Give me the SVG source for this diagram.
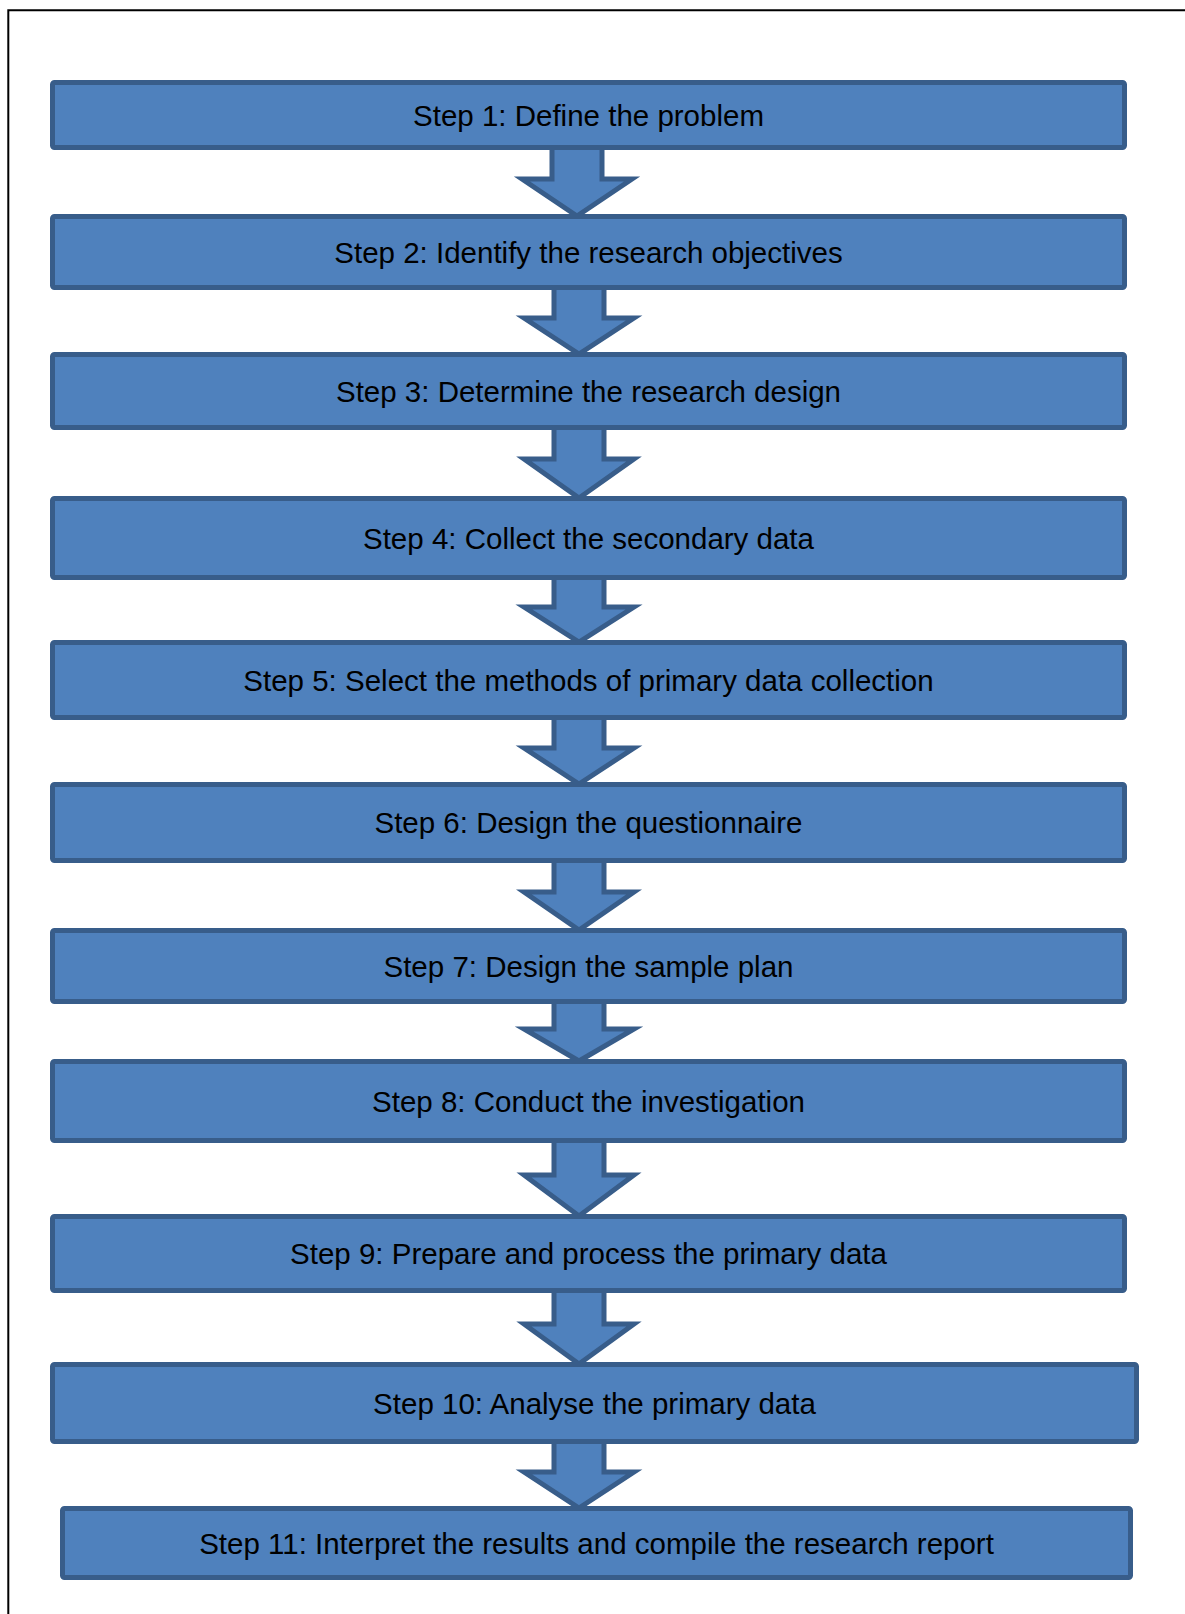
<svg xmlns="http://www.w3.org/2000/svg" width="1185" height="1614" viewBox="0 0 1185 1614">
  <style>
    .step { fill: #4F81BD; stroke: #385D8A; stroke-width: 5; }
    .arrow { fill: #4F81BD; stroke: #385D8A; stroke-width: 5; stroke-linejoin: miter; }
    .label { font-family: "Liberation Sans", Arial, sans-serif; font-size: 29.5px; fill: #000; text-anchor: middle; }
    .frame { fill: none; stroke: #000; stroke-width: 2; }
  </style>
  <rect width="1185" height="1614" fill="#fff"/>
  <path class="frame" d="M8.3,1620 V10.3 H1190"/>

  <!-- block arrows between steps (drawn beneath the boxes) -->
  <g id="connectors">
    <polygon class="arrow" points="552,147 602,147 602,179 632,179 577,216 522,179 552,179"/>
    <polygon class="arrow" points="554,287 604,287 604,318 634,318 579,354 524,318 554,318"/>
    <polygon class="arrow" points="554,427 604,427 604,459 634,459 579,498 524,459 554,459"/>
    <polygon class="arrow" points="554,577 604,577 604,607 634,607 579,642 524,607 554,607"/>
    <polygon class="arrow" points="554,717 604,717 604,748 634,748 579,784 524,748 554,748"/>
    <polygon class="arrow" points="554,860 604,860 604,892 634,892 579,930 524,892 554,892"/>
    <polygon class="arrow" points="554,1001 604,1001 604,1029 634,1029 579,1061 524,1029 554,1029"/>
    <polygon class="arrow" points="554,1140 604,1140 604,1175 634,1175 579,1216 524,1175 554,1175"/>
    <polygon class="arrow" points="554,1290 604,1290 604,1324 634,1324 579,1364 524,1324 554,1324"/>
    <polygon class="arrow" points="554,1441 604,1441 604,1472 634,1472 579,1508 524,1472 554,1472"/>
  </g>

  <g id="step1">
    <rect class="step" x="52.5" y="82.5" width="1072" height="65" rx="2"/>
    <text class="label" x="588.5" y="125.5">Step 1: Define the problem</text>
  </g>
  <g id="step2">
    <rect class="step" x="52.5" y="216.5" width="1072" height="71" rx="2"/>
    <text class="label" x="588.5" y="262.5">Step 2: Identify the research objectives</text>
  </g>
  <g id="step3">
    <rect class="step" x="52.5" y="354.5" width="1072" height="73" rx="2"/>
    <text class="label" x="588.5" y="401.5">Step 3: Determine the research design</text>
  </g>
  <g id="step4">
    <rect class="step" x="52.5" y="498.5" width="1072" height="79" rx="2"/>
    <text class="label" x="588.5" y="548.5">Step 4: Collect the secondary data</text>
  </g>
  <g id="step5">
    <rect class="step" x="52.5" y="642.5" width="1072" height="75" rx="2"/>
    <text class="label" x="588.5" y="690.5">Step 5: Select the methods of primary data collection</text>
  </g>
  <g id="step6">
    <rect class="step" x="52.5" y="784.5" width="1072" height="76" rx="2"/>
    <text class="label" x="588.5" y="833">Step 6: Design the questionnaire</text>
  </g>
  <g id="step7">
    <rect class="step" x="52.5" y="930.5" width="1072" height="71" rx="2"/>
    <text class="label" x="588.5" y="976.5">Step 7: Design the sample plan</text>
  </g>
  <g id="step8">
    <rect class="step" x="52.5" y="1061.5" width="1072" height="79" rx="2"/>
    <text class="label" x="588.5" y="1111.5">Step 8: Conduct the investigation</text>
  </g>
  <g id="step9">
    <rect class="step" x="52.5" y="1216.5" width="1072" height="74" rx="2"/>
    <text class="label" x="588.5" y="1264">Step 9: Prepare and process the primary data</text>
  </g>
  <g id="step10">
    <rect class="step" x="52.5" y="1364.5" width="1084" height="77" rx="2"/>
    <text class="label" x="594.5" y="1413.5">Step 10: Analyse the primary data</text>
  </g>
  <g id="step11">
    <rect class="step" x="62.5" y="1508.5" width="1068" height="69" rx="2"/>
    <text class="label" x="596.5" y="1553.5">Step 11: Interpret the results and compile the research report</text>
  </g>
</svg>
